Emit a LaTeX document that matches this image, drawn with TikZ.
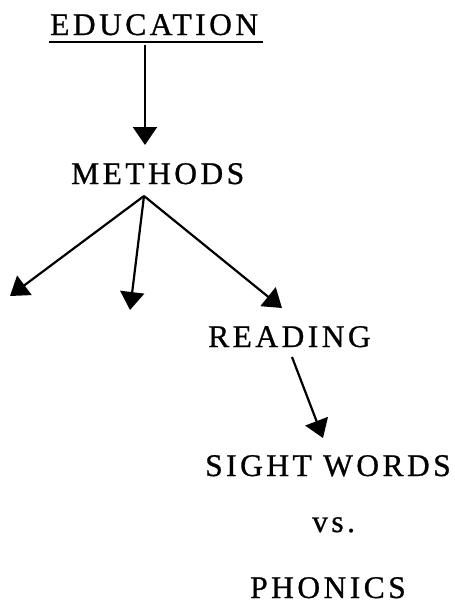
\documentclass[tikz,border=0pt]{standalone}
\usepackage{fontspec}
\setmainfont{Liberation Serif}
\usetikzlibrary{arrows.meta,calc}
\newfontfamily\labelfont[LetterSpace=11,FakeBold=0.8]{Liberation Serif}
\begin{document}
\begin{tikzpicture}[x=1pt,y=-1pt,
  word/.style={anchor=base west,inner sep=0pt,font=\fontsize{31.5}{36}\labelfont},
  arr/.style={line width=2.2pt,-{Triangle[width=24pt,length=18pt]}}]
\useasboundingbox (0,0) rectangle (455,613);

% labels, placed by their baselines
\node[word] (edu)   at (50,35)   {EDUCATION};
\node[word] (meth)  at (71,184)  {METHODS};
\node[word] (read)  at (208,347) {READING};
\node[word] (sight) at (205,476) {SIGHT WORDS};
\node[word] (vs)    at (312,532) {vs.};
\node[word] (phon)  at (250,598) {PHONICS};

% underline of the heading
\draw[line width=2.2pt] ($(edu.base west)+(-1,7)$) -- ($(edu.base west)+(213,7)$);

% connectors
\coordinate (fan) at ($(meth.base west)+(73,12)$);
\coordinate (leftend) at (10,296);
\coordinate (midend) at (130,310);

\draw[arr] ($(edu.base west)+(95,10)$) -- ($(meth.base west)+(74,-39)$);
\draw[arr] (fan) -- (leftend);
\draw[arr] (fan) -- (midend);
\draw[arr] (fan) -- ($(read.base west)+(74,-39)$);
\draw[arr] ($(read.base west)+(84,10)$) -- ($(sight.base west)+(118,-38)$);
\end{tikzpicture}
\end{document}
